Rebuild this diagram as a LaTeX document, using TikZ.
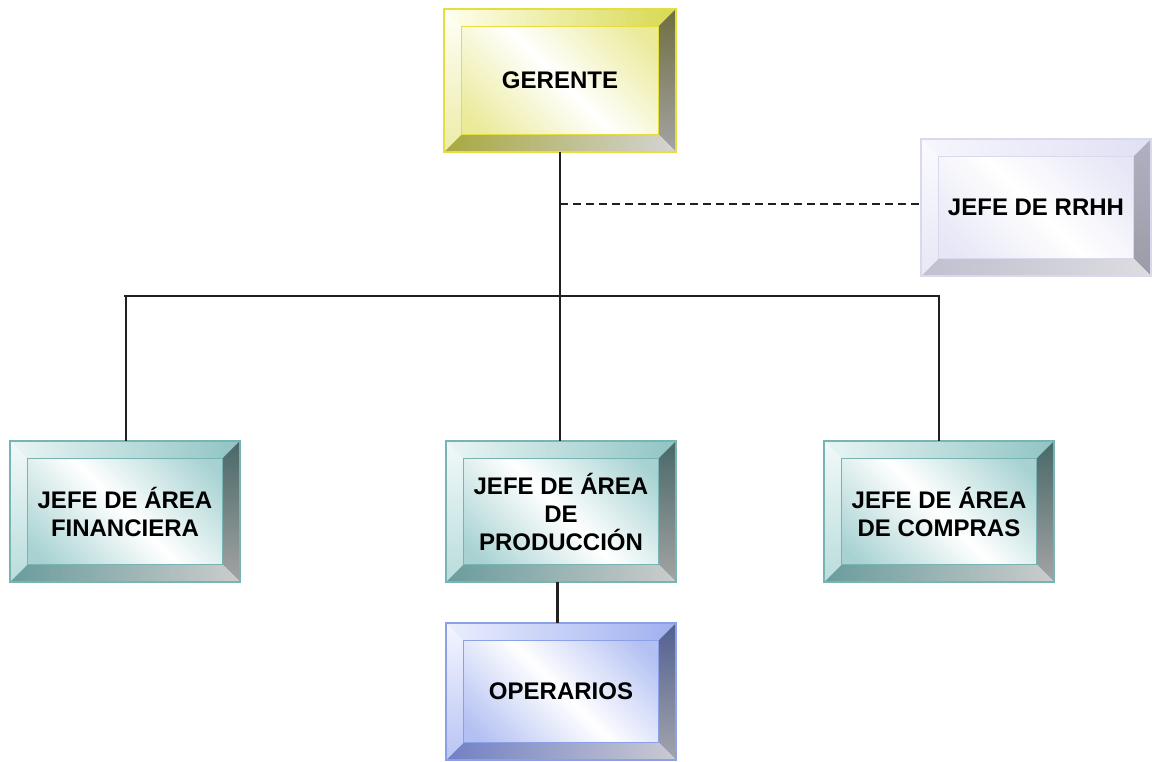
\documentclass[tikz,border=0pt]{standalone}
\usepackage{fontspec}
\setmainfont{Liberation Sans}
\usetikzlibrary{backgrounds,calc}
% yellow (gerente)
\definecolor{gebd}{HTML}{E4DE40}
\definecolor{geta}{HTML}{FFFFF0}
\definecolor{getb}{HTML}{D8D850}
\definecolor{gera}{HTML}{6E6E40}
\definecolor{gerb}{HTML}{A4A4A4}
\definecolor{geba}{HTML}{A8A840}
\definecolor{gebb}{HTML}{D4D4D4}
\definecolor{gela}{HTML}{FFFFF8}
\definecolor{gelb}{HTML}{ECECA8}
\definecolor{gef}{HTML}{EAEA98}
% teal
\definecolor{tlbd}{HTML}{78B4B4}
\definecolor{tlta}{HTML}{EAF5F5}
\definecolor{tltb}{HTML}{90C4C4}
\definecolor{tlra}{HTML}{486868}
\definecolor{tlrb}{HTML}{A4A4A4}
\definecolor{tlba}{HTML}{6A9C9C}
\definecolor{tlbb}{HTML}{CCCCCC}
\definecolor{tlla}{HTML}{F2F9F9}
\definecolor{tllb}{HTML}{B8DCDC}
\definecolor{tlf}{HTML}{A8D2D2}
% lavender
\definecolor{lvbd}{HTML}{D8D8EE}
\definecolor{lvta}{HTML}{F6F6FD}
\definecolor{lvtb}{HTML}{E0E0F4}
\definecolor{lvra}{HTML}{B0B0C0}
\definecolor{lvrb}{HTML}{9C9CA8}
\definecolor{lvba}{HTML}{C0C0D0}
\definecolor{lvbb}{HTML}{DCDCE0}
\definecolor{lvla}{HTML}{FAFAFF}
\definecolor{lvlb}{HTML}{E8E8F6}
\definecolor{lvf}{HTML}{E6E6F6}
% blue
\definecolor{blbd}{HTML}{8CA0E8}
\definecolor{blta}{HTML}{EAEEFD}
\definecolor{bltb}{HTML}{A0B0F0}
\definecolor{blra}{HTML}{506090}
\definecolor{blrb}{HTML}{A4A4AC}
\definecolor{blba}{HTML}{7080C4}
\definecolor{blbb}{HTML}{CACAD2}
\definecolor{blla}{HTML}{F4F6FF}
\definecolor{bllb}{HTML}{B8C4F4}
\definecolor{blf}{HTML}{B2C0F2}
\definecolor{linegray}{HTML}{202020}
\newcommand\bvl{18}
\newcommand\bevbox[7]{%
\node[bx,minimum width=#4pt,minimum height=#5pt] (#1) at (#2,#3) {#7};
\begin{scope}[on background layer]
\shade[top color=#6f,bottom color=#6f,middle color=white,shading angle=-45] (#1.north west) rectangle (#1.south east);
\shade[left color=#6ta,right color=#6tb] (#1.north west) -- (#1.north east) -- ($(#1.north east)+(-\bvl,-\bvl)$) -- ($(#1.north west)+(\bvl,-\bvl)$) -- cycle;
\shade[top color=#6ra,bottom color=#6rb] (#1.north east) -- (#1.south east) -- ($(#1.south east)+(-\bvl,\bvl)$) -- ($(#1.north east)+(-\bvl,-\bvl)$) -- cycle;
\shade[left color=#6ba,right color=#6bb] (#1.south west) -- (#1.south east) -- ($(#1.south east)+(-\bvl,\bvl)$) -- ($(#1.south west)+(\bvl,\bvl)$) -- cycle;
\shade[top color=#6la,bottom color=#6lb] (#1.north west) -- (#1.south west) -- ($(#1.south west)+(\bvl,\bvl)$) -- ($(#1.north west)+(\bvl,-\bvl)$) -- cycle;
\draw[#6bd,line width=1.1pt] ($(#1.north west)+(\bvl,-\bvl)$) rectangle ($(#1.south east)+(-\bvl,\bvl)$);
\draw[#6bd,line width=1.8pt] (#1.north west) rectangle (#1.south east);
\end{scope}}
\tikzset{
  bx/.style={inner sep=0pt,align=center,text=black,
    font=\bfseries\fontsize{24}{28}\selectfont},
  link/.style={draw=linegray,line width=1.8pt},
  dashlink/.style={draw=linegray,line width=1.6pt,dash pattern=on 8pt off 5pt}
}
\begin{document}
\begin{tikzpicture}[x=1pt,y=1pt]
\useasboundingbox (0,0) rectangle (1154,762);
\bevbox{gerente}{560}{681.5}{232}{143}{ge}{GERENTE}
\bevbox{rrhh}{1036}{554.5}{230}{137}{lv}{JEFE DE RRHH}
\bevbox{fin}{125}{250.5}{230}{141}{tl}{JEFE DE ÁREA\\FINANCIERA}
\bevbox{prod}{561}{250.5}{230}{141}{tl}{JEFE DE ÁREA\\DE\\PRODUCCIÓN}
\bevbox{comp}{939}{250.5}{230}{141}{tl}{JEFE DE ÁREA\\DE COMPRAS}
\bevbox{oper}{561}{70.5}{230}{137}{bl}{OPERARIOS}
\coordinate (bus) at (0,466);
\coordinate (dash) at (0,558);
\draw[dashlink] (gerente.south |- dash) -- (rrhh.west |- dash);
\draw[link] (gerente.south) -- (gerente.south |- bus);
\draw[link] ([xshift=-1pt]fin.north |- bus) -- ([xshift=1pt]comp.north |- bus);
\draw[link] ([xshift=1pt]fin.north |- bus) -- ([xshift=1pt]fin.north);
\draw[link] (gerente.south |- bus) -- (gerente.south |- prod.north);
\draw[link] (comp.north |- bus) -- (comp.north);
\draw[draw=linegray,line width=3pt] ([xshift=-4pt]prod.south) -- ([xshift=-4pt]prod.south |- oper.north);
\end{tikzpicture}
\end{document}
